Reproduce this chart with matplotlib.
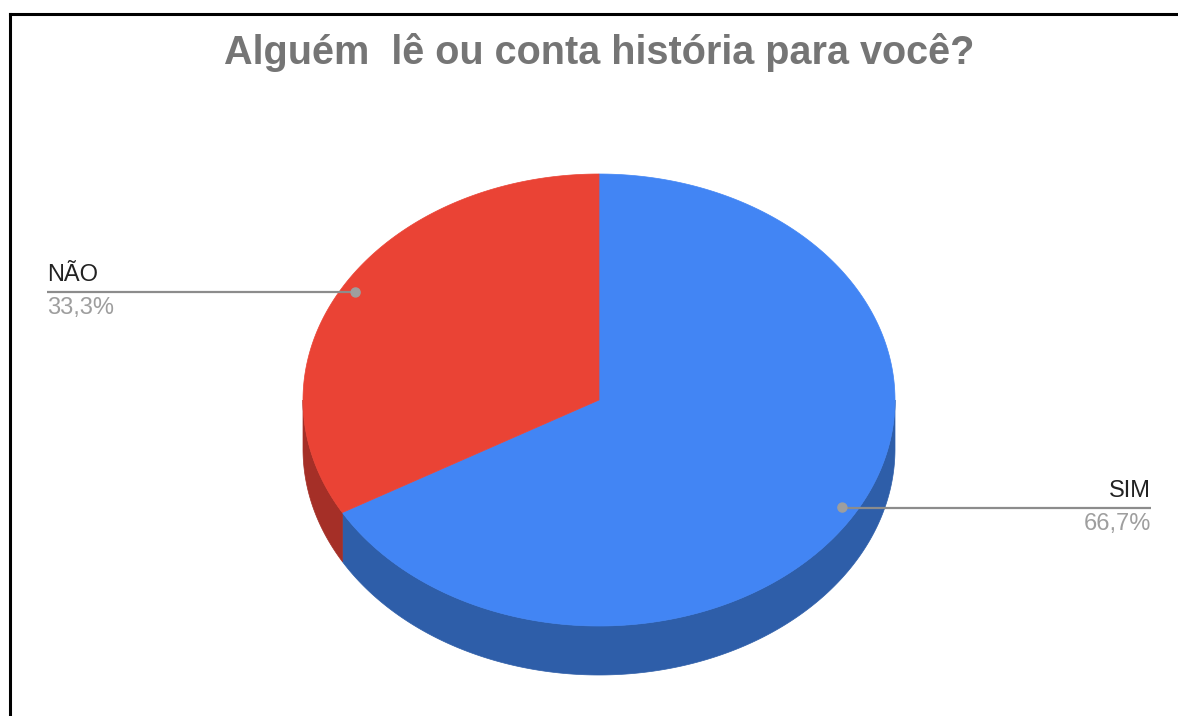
import numpy as np
import matplotlib.pyplot as plt
from matplotlib.patches import Polygon, Circle
from matplotlib.lines import Line2D

# data
categories = ["SIM", "NÃO"]
values = [66.7, 33.3]
pct_labels = ["66,7%", "33,3%"]
title = "Alguém  lê ou conta história para você?"

top_colors = ["#4285f4", "#ea4335"]
side_colors = ["#2e5ea9", "#a52f27"]

plt.rcParams["font.family"] = ["Liberation Sans", "DejaVu Sans"]

W, H = 1178, 716
cx, cy = 599, 400
rx, ry = 296, 226
depth = 49

fig = plt.figure(figsize=(W / 100, H / 100), dpi=100)
ax = fig.add_axes([0, 0, 1, 1])
ax.set_xlim(0, W)
ax.set_ylim(H, 0)
ax.axis("off")


def arc(t0, t1, r=1.0, dz=0.0, n=300):
    t = np.linspace(t0, t1, n)
    return np.column_stack([cx + r * rx * np.cos(t), cy - r * ry * np.sin(t) + dz])


fracs = np.array(values) / sum(values)
# start at 12 o'clock, go clockwise
bounds = np.pi / 2 - 2 * np.pi * np.concatenate([[0], np.cumsum(fracs)])

# side walls (only the front half, where sin(t) < 0)
for i in range(len(values)):
    a, b = bounds[i], bounds[i + 1]
    for k in range(-2, 2):
        lo = max(b, -np.pi + 2 * np.pi * k)
        hi = min(a, 2 * np.pi * k)
        if hi <= lo:
            continue
        pts = np.vstack([arc(lo, hi), arc(hi, lo, dz=depth)])
        ax.add_patch(Polygon(pts, closed=True, facecolor=side_colors[i],
                             edgecolor=side_colors[i], lw=0.5))

# top faces
for i in range(len(values)):
    a, b = bounds[i], bounds[i + 1]
    pts = np.vstack([[cx, cy], arc(a, b)])
    ax.add_patch(Polygon(pts, closed=True, facecolor=top_colors[i],
                         edgecolor=top_colors[i], lw=0.5))

# leader lines and labels
for i in range(len(values)):
    mid = (bounds[i] + bounds[i + 1]) / 2
    px, py = arc(mid, mid, r=0.95, n=1)[0]
    if np.cos(mid) >= 0:
        x_end, ha = 1151, "right"
    else:
        x_end, ha = 47, "left"
    ax.plot([px, x_end], [py, py], color="#8c8c8c", lw=1.6, solid_capstyle="butt")
    ax.add_patch(Circle((px, py), 4.5, color="#9e9e9e", zorder=5))
    ax.text(x_end, py - 6, categories[i], ha=ha, va="bottom", fontsize=17,
            color="#222222")
    ax.text(x_end, py + 5, pct_labels[i], ha=ha, va="top", fontsize=17,
            color="#9e9e9e")

ax.text(599, 53, title, ha="center", va="center", fontsize=28.5,
        fontweight="bold", color="#757575")

# chart frame (top and left edges visible)
fig.add_artist(Line2D([10 / W, 1], [1 - 14 / H, 1 - 14 / H], color="black", lw=2.2))
fig.add_artist(Line2D([10 / W, 10 / W], [0, 1 - 14 / H], color="black", lw=2.2))

fig.savefig("out.png", dpi=100, facecolor="white")
